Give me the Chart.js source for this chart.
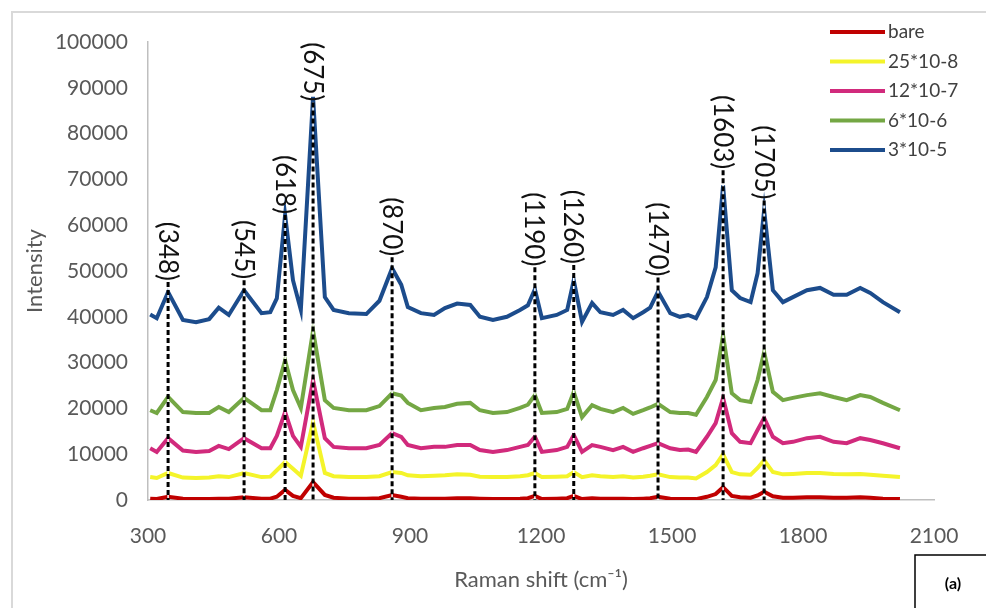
<!DOCTYPE html>
<html>
<head>
<meta charset="utf-8">
<script src="https://cdn.jsdelivr.net/npm/chart.js@4.4.1/dist/chart.umd.min.js"></script>
<style>
  html, body { margin: 0; padding: 0; background: #fff; }
  #wrap { width: 986px; height: 608px; }
</style>
</head>
<body>
<div id="wrap"><canvas id="chart"></canvas></div>
<script>
'use strict'
const ctx = document.getElementById('chart').getContext('2d')

// Raman shift (cm-1) sample points
const shift = [
  305, 320, 346, 380, 410, 440, 462, 485, 520, 560,
  580, 595, 614, 632, 650, 678, 705, 725, 760, 800,
  830, 859, 880, 895, 925, 955, 980, 1008, 1038, 1060,
  1090, 1122, 1152, 1170, 1186, 1202, 1236, 1260, 1275, 1294,
  1317, 1336, 1365, 1388, 1411, 1434, 1450, 1468, 1496, 1518,
  1537, 1555, 1580, 1600, 1617, 1637, 1656, 1680, 1696, 1711,
  1731, 1754, 1777, 1809, 1839, 1870, 1900, 1931, 1954, 1983,
  2022,
]

const bare = [
  300, 200, 700, 300, 200, 200, 300, 300, 600, 300,
  300, 700, 2200, 900, 400, 3900, 1100, 500, 300, 300,
  400, 1100, 700, 400, 300, 300, 300, 400, 400, 300,
  200, 200, 300, 400, 900, 200, 300, 400, 900, 200,
  400, 300, 300, 300, 200, 300, 400, 700, 300, 200,
  200, 200, 700, 1300, 2800, 900, 600, 500, 1000, 1800,
  800, 500, 500, 600, 600, 500, 500, 600, 500, 300,
  200,
]

const c25e8 = [
  5000, 4800, 5900, 4900, 4800, 4900, 5200, 5000, 5900, 5000,
  5100, 6500, 8300, 6800, 5300, 17000, 5900, 5200, 5000, 5000,
  5200, 6100, 5900, 5400, 5200, 5300, 5400, 5600, 5500, 5100,
  5000, 5000, 5200, 5400, 5900, 5000, 5100, 5200, 6100, 5000,
  5400, 5200, 5000, 5200, 4900, 5100, 5300, 5600, 5000, 4900,
  4900, 4700, 6100, 7600, 10000, 6100, 5600, 5500, 7000, 8700,
  6100, 5600, 5700, 5900, 5900, 5700, 5600, 5700, 5500, 5300,
  5000,
]

const c12e7 = [
  11300, 10500, 13500, 10800, 10500, 10700, 11800, 11100, 13500, 11300,
  11300, 14000, 19200, 14000, 11600, 26200, 13500, 11600, 11300, 11300,
  12000, 14600, 13800, 12000, 11300, 11600, 11600, 12000, 12000, 10900,
  10500, 10900, 11600, 12000, 13800, 10500, 10900, 11600, 14200, 10500,
  12000, 11600, 10900, 11600, 10500, 11300, 11800, 12400, 11300, 10900,
  11000, 10500, 13800, 16800, 22300, 14600, 12700, 12400, 15300, 17900,
  13800, 12400, 12700, 13500, 13800, 12700, 12400, 13500, 13100, 12400,
  11300,
]

const c6e6 = [
  19600, 19000, 22500, 19200, 19000, 19000, 20300, 19200, 22300, 19600,
  19600, 24000, 30500, 24000, 20100, 37000, 21800, 20100, 19600, 19600,
  20500, 23300, 22800, 21200, 19600, 20100, 20300, 21000, 21200, 19600,
  19000, 19200, 20100, 20800, 22900, 19000, 19200, 19900, 23600, 18100,
  20700, 19900, 19200, 20100, 18800, 19600, 20200, 21000, 19200, 19000,
  19000, 18600, 22500, 26200, 36000, 23300, 21800, 21400, 26200, 32300,
  23600, 21800, 22300, 22900, 23300, 22500, 21800, 22900, 22500, 21200,
  19600,
]

const c3e5 = [
  40500, 39700, 45400, 39300, 38800, 39500, 42000, 40400, 45800, 40800,
  41000, 44000, 62200, 48000, 41500, 88000, 44300, 41500, 40800, 40600,
  43500, 50600, 47000, 42100, 40800, 40400, 41900, 42900, 42600, 40000,
  39300, 40000, 41500, 42500, 46000, 39700, 40400, 41500, 48000, 38900,
  43000, 41000, 40400, 41500, 39700, 41000, 42000, 45500, 40800, 40000,
  40400, 39700, 44300, 50800, 68700, 45800, 44100, 43200, 49500, 63300,
  45800, 43200, 44300, 45800, 46300, 44800, 44800, 46300, 45200, 43200,
  41000,
]

const seriesNames = ['bare', '25*10-8', '12*10-7', '6*10-6', '3*10-5']
const series = [bare, c25e8, c12e7, c6e6, c3e5]
const colors = ['#c00000', '#f4f42a', '#d12a7c', '#74a744', '#1c4c8c']

// marked peaks: label, drawn position, top of the dashed marker
const peakNames = ['(348)', '(545)', '(618)', '(675)', '(870)', '(1190)', '(1260)', '(1470)', '(1603)', '(1705)']
const peakPos = [346, 520, 614, 678, 859, 1186, 1275, 1468, 1617, 1711]
const peakTop = [47600, 48000, 62200, 86800, 53000, 50800, 51300, 48600, 72000, 65400]

const tickFont = { family: 'Lato', size: 21 }
const grey = '#595959'

const datasets = seriesNames.map((name, i) => ({
  label: name,
  data: shift.map((x, j) => ({ x: x, y: series[i][j] })),
  borderColor: colors[i],
  backgroundColor: colors[i],
  borderWidth: 4,
  pointRadius: 0,
  tension: 0,
  fill: false,
  order: series.length - i,
}))

const frame = {
  id: 'frame',
  beforeDraw(chart) {
    const c = chart.ctx
    c.save()
    c.fillStyle = '#fff'
    c.fillRect(0, 0, chart.width, chart.height)
    c.strokeStyle = '#d9d9d9'
    c.lineWidth = 2
    c.strokeRect(12, 12, chart.width + 20, chart.height + 20)
    c.restore()
  },
}

const peaks = {
  id: 'peaks',
  afterDatasetsDraw(chart) {
    const c = chart.ctx
    const xs = chart.scales.x
    const ys = chart.scales.y
    c.save()
    peakNames.forEach((name, i) => {
      const x = xs.getPixelForValue(peakPos[i])
      const top = ys.getPixelForValue(peakTop[i])
      const bottom = ys.getPixelForValue(0)
      c.strokeStyle = '#fff'
      c.lineWidth = 1.5
      c.setLineDash([])
      c.beginPath()
      c.moveTo(x, top)
      c.lineTo(x, bottom)
      c.stroke()
      c.strokeStyle = '#000'
      c.lineWidth = 3
      c.setLineDash([5, 3])
      c.beginPath()
      c.moveTo(x, top)
      c.lineTo(x, bottom)
      c.stroke()

      c.save()
      c.translate(x, top)
      c.rotate(Math.PI / 2)
      c.font = '26px Lato'
      c.fillStyle = '#111'
      c.textAlign = 'right'
      c.textBaseline = 'middle'
      c.fillText(name, -1, 1)
      c.restore()
    })
    c.restore()
  },
}

const legendBox = {
  id: 'legendBox',
  afterDraw(chart) {
    const c = chart.ctx
    c.save()
    c.font = '19px Lato'
    c.textBaseline = 'middle'
    c.textAlign = 'left'
    chart.data.datasets.forEach((ds, i) => {
      const y = 32 + i * 29.5
      c.strokeStyle = ds.borderColor
      c.lineWidth = 4
      c.setLineDash([])
      c.beginPath()
      c.moveTo(830, y)
      c.lineTo(885, y)
      c.stroke()
      c.fillStyle = '#404040'
      c.fillText(ds.label, 888, y)
    })

    // panel tag
    c.strokeStyle = '#000'
    c.lineWidth = 1.5
    c.strokeRect(915, 555, 90, 70)
    c.fillStyle = '#000'
    c.font = 'bold 16px Lato'
    c.textAlign = 'center'
    c.fillText('(a)', 953, 584)
    c.restore()
  },
}

const config = {
  type: 'line',
  data: { datasets: datasets },
  options: {
    responsive: true,
    maintainAspectRatio: false,
    animation: false,
    layout: { padding: { left: 14, right: 52, top: 42, bottom: 8 } },
    scales: {
      x: {
        type: 'linear',
        min: 300,
        max: 2100,
        afterFit(scale) { scale.height = 100 },
        ticks: { stepSize: 300, color: grey, font: tickFont, padding: 24, maxRotation: 0, autoSkip: false, callback: (v) => String(v) },
        grid: { display: false, drawTicks: false },
        border: { display: true, color: '#bfbfbf', width: 1.5 },
        title: {
          display: true,
          text: 'Raman shift (cm⁻¹)',
          color: grey,
          font: { family: 'Lato', size: 22 },
          padding: { top: 0, bottom: 7 },
        },
      },
      y: {
        min: 0,
        max: 100000,
        afterFit(scale) { scale.width = 134 },
        ticks: { stepSize: 10000, color: grey, font: tickFont, padding: 20, callback: (v) => String(v) },
        grid: { display: false, drawTicks: false },
        border: { display: true, color: '#bfbfbf', width: 1.5 },
        title: {
          display: true,
          text: 'Intensity',
          color: grey,
          font: { family: 'Lato', size: 22 },
          padding: { top: 8, bottom: 0 },
        },
      },
    },
    plugins: {
      legend: { display: false },
      tooltip: { enabled: false },
    },
  },
  plugins: [frame, peaks, legendBox],
}

const chart = new Chart(ctx, config)
</script>
</body>
</html>
